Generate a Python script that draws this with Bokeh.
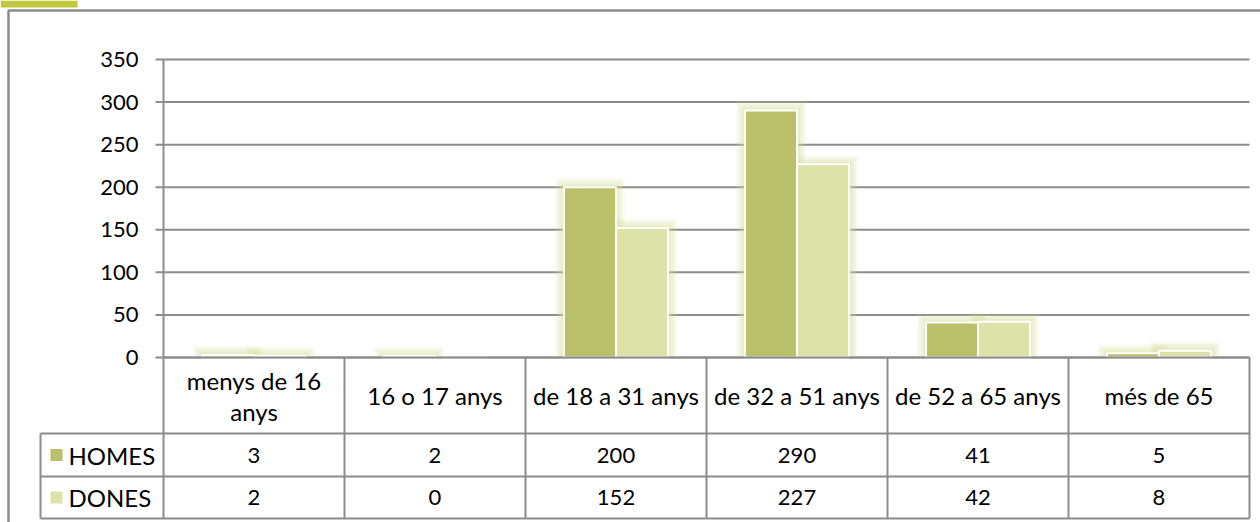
from bokeh.plotting import figure
from bokeh.models import Range1d
from bokeh.core.properties import value
from bokeh.embed import file_html
from bokeh.resources import INLINE

# ---------------- data ----------------
categories = ["menys de 16\nanys", "16 o 17 anys", "de 18 a 31 anys",
              "de 32 a 51 anys", "de 52 a 65 anys", "més de 65"]
series_names = ["HOMES", "DONES"]
homes = [3, 2, 200, 290, 41, 5]
dones = [2, 0, 152, 227, 42, 8]
y_ticks = [0, 50, 100, 150, 200, 250, 300, 350]

# ---------------- layout constants (pixels) ----------------
W, H = 1260, 522
PLOT_L = 163.0          # left of plot area
CAT_W = 181.0           # width of one category
Y0_PX = 357.0           # pixel row of value 0
YMAX_PX = 59.0          # pixel row of value 350
YMAX = 350.0
K = (Y0_PX - YMAX_PX) / YMAX   # px per unit
HEAD_BOTTOM = 433.0
ROW1_BOTTOM = 476.0
ROW2_BOTTOM = 518.0
LEG_L = 40.0
TABLE_R = PLOT_L + CAT_W * len(categories)

GRID = "#8C8C8C"
C_HOMES = "#BBC16B"
C_DONES = "#DDE2A8"
GLOW = "#D6DF93"
FONT = value("Lato")
FS_TXT = "24px"
FS_NUM = "22px"

p = figure(width=W, height=H, x_range=Range1d(0, W), y_range=Range1d(H, 0),
           min_border=0, toolbar_location=None, output_backend="svg",
           x_axis_type=None, y_axis_type=None)
p.outline_line_color = None
p.background_fill_color = "white"
p.border_fill_color = "white"

# extra ranges mapping data onto the plot area
p.extra_x_ranges = {"cat": Range1d(-PLOT_L / CAT_W, (W - PLOT_L) / CAT_W)}
p.extra_y_ranges = {"val": Range1d(-(H - Y0_PX) / K, YMAX + YMAX_PX / K)}

# decoration: green tab and outer border
p.quad(left=[0], right=[77], top=[0], bottom=[7], fill_color="#BFC93B", line_color=None)
p.line(x=[8, 8, W + 5], y=[H + 5, 10, 10], line_color=GRID, line_width=2.5)

# gridlines & y axis
p.segment(x0=[0] * len(y_ticks), x1=[len(categories)] * len(y_ticks),
          y0=y_ticks, y1=y_ticks, x_range_name="cat", y_range_name="val",
          line_color=GRID, line_width=2)
p.segment(x0=[PLOT_L - 8] * len(y_ticks), x1=[PLOT_L] * len(y_ticks),
          y0=y_ticks, y1=y_ticks, y_range_name="val", line_color=GRID, line_width=2)
p.text(x=[PLOT_L - 25] * len(y_ticks), y=y_ticks, text=[str(t) for t in y_ticks],
       y_range_name="val", text_align="right", text_baseline="middle",
       text_font=FONT, text_font_size=FS_NUM, text_color="black")

# bars with glow
bw = 52.0 / CAT_W
xs_h = [i + 0.5 - bw / 2 for i in range(len(categories))]
xs_d = [i + 0.5 + bw / 2 for i in range(len(categories))]
for g, a in [(9, 0.12), (7, 0.14), (5, 0.16), (3, 0.2)]:
    gx, gy = g / CAT_W, g / K
    for xs, vals in [(xs_h, homes), (xs_d, dones)]:
        sel = [(x, v) for x, v in zip(xs, vals) if v > 0]
        p.quad(left=[x - bw / 2 - gx for x, v in sel], right=[x + bw / 2 + gx for x, v in sel],
               bottom=[0] * len(sel), top=[v + gy for x, v in sel],
               x_range_name="cat", y_range_name="val",
               fill_color=GLOW, fill_alpha=a, line_color=None)
p.vbar(x=xs_h, width=bw, top=homes, bottom=0, x_range_name="cat", y_range_name="val",
       fill_color=C_HOMES, line_color="white", line_width=2)
p.vbar(x=xs_d, width=bw, top=dones, bottom=0, x_range_name="cat", y_range_name="val",
       fill_color=C_DONES, line_color="white", line_width=2)

# ---------------- data table ----------------
n = len(categories)
p.segment(x0=[PLOT_L, LEG_L, LEG_L, LEG_L], x1=[TABLE_R] * 4,
          y0=[Y0_PX, HEAD_BOTTOM, ROW1_BOTTOM, ROW2_BOTTOM],
          y1=[Y0_PX, HEAD_BOTTOM, ROW1_BOTTOM, ROW2_BOTTOM],
          line_color=GRID, line_width=2)
p.segment(x0=[PLOT_L, LEG_L], x1=[PLOT_L, LEG_L], y0=[YMAX_PX, HEAD_BOTTOM],
          y1=[ROW2_BOTTOM, ROW2_BOTTOM], line_color=GRID, line_width=2)
p.segment(x0=list(range(1, n + 1)), x1=list(range(1, n + 1)), y0=[Y0_PX] * n,
          y1=[ROW2_BOTTOM] * n, x_range_name="cat", line_color=GRID, line_width=2)

# header labels
hx, hy, ht = [], [], []
head_mid = (Y0_PX + HEAD_BOTTOM) / 2
for i, c in enumerate(categories):
    lines = c.split("\n")
    step = 31
    start = head_mid - step * (len(lines) - 1) / 2
    for j, ln in enumerate(lines):
        hx.append(i + 0.5)
        hy.append(start + j * step)
        ht.append(ln)
p.text(x=hx, y=hy, text=ht, x_range_name="cat", text_align="center",
       text_baseline="middle", text_font=FONT, text_font_size=FS_TXT, text_color="black")

# value rows
row_mid = [(HEAD_BOTTOM + ROW1_BOTTOM) / 2, (ROW1_BOTTOM + ROW2_BOTTOM) / 2]
for vals, ym in [(homes, row_mid[0]), (dones, row_mid[1])]:
    p.text(x=[i + 0.5 for i in range(n)], y=[ym] * n, text=[str(v) for v in vals],
           x_range_name="cat", text_align="center", text_baseline="middle",
           text_font=FONT, text_font_size=FS_NUM, text_color="black")

# legend keys in table
p.quad(left=[50, 50], right=[62, 62], top=[row_mid[0] - 6, row_mid[1] - 6],
       bottom=[row_mid[0] + 6, row_mid[1] + 6], fill_color=[C_HOMES, C_DONES], line_color=None)
p.text(x=[68, 68], y=row_mid, text=series_names, text_align="left", text_baseline="middle",
       text_font=FONT, text_font_size=FS_TXT, text_color="black")

open("out.html", "w").write(file_html(p, INLINE))
